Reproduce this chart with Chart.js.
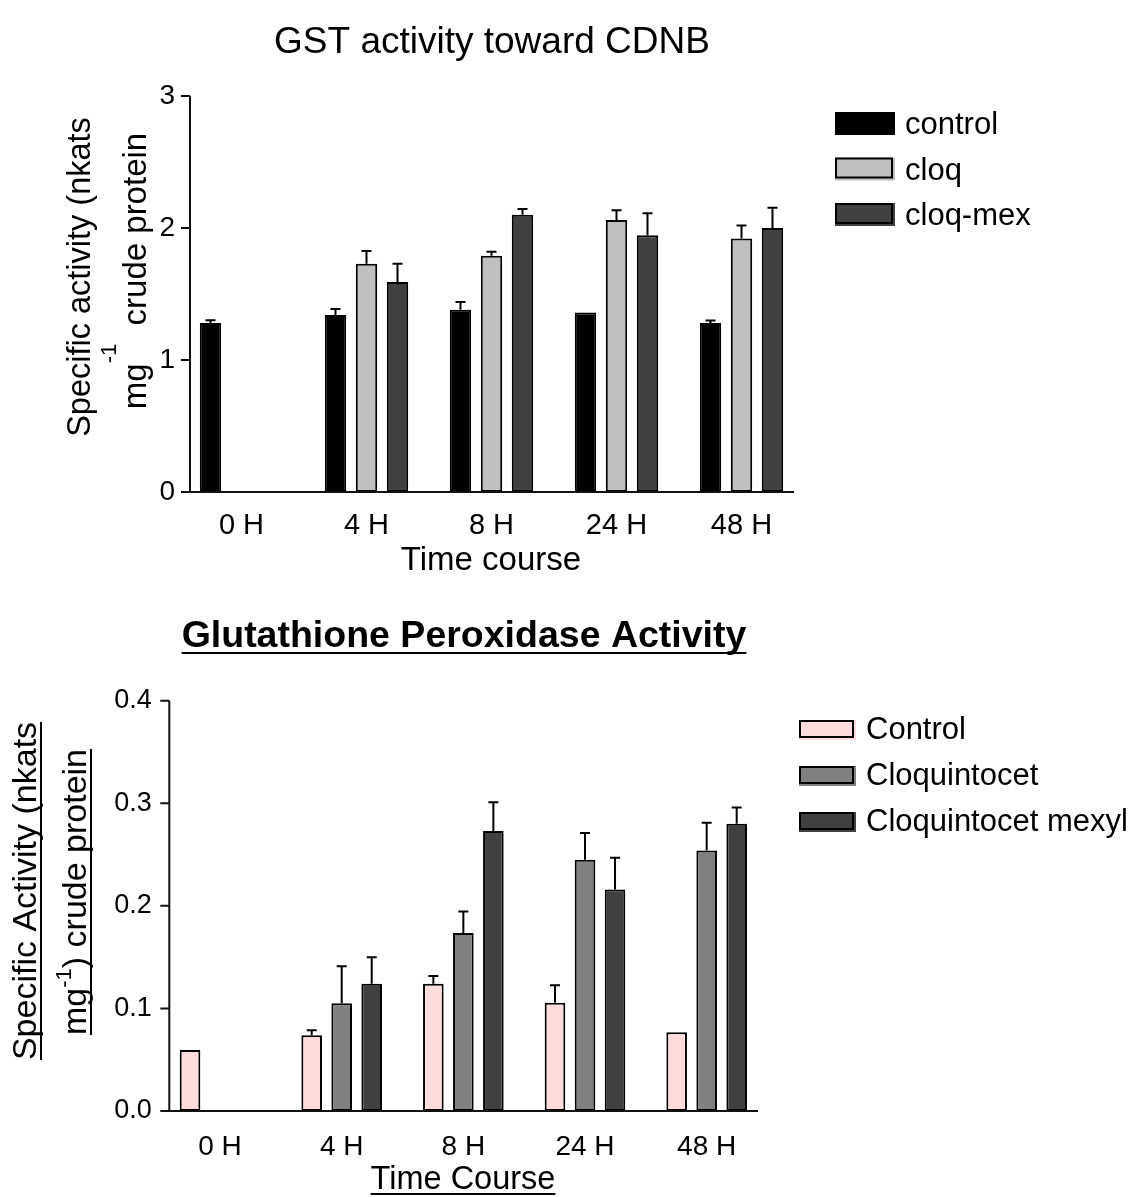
<!DOCTYPE html>
<html>
<head>
<meta charset="utf-8">
<script src="https://cdn.jsdelivr.net/npm/chart.js@4.4.0/dist/chart.umd.min.js"></script>
<style>
  html, body { margin: 0; padding: 0; background: #fff; }
  #wrap { position: relative; width: 1136px; height: 1197px; }
  canvas { position: absolute; left: 0; }
  #gst { top: 0; }
  #gpx { top: 600px; }
</style>
</head>
<body>
<div id="wrap">
  <canvas id="gst" width="1136" height="600"></canvas>
  <canvas id="gpx" width="1136" height="597"></canvas>
</div>
<script>
const FONT = '"Liberation Sans", Arial, Helvetica, sans-serif';
const timePoints = ['0 H', '4 H', '8 H', '24 H', '48 H'];

// GST activity toward CDNB (nkats mg-1 crude protein), with upper error bars
const gstControl = [1.28, 1.34, 1.38, 1.36, 1.28];
const gstControlErr = [0.022, 0.047, 0.06, 0, 0.02];
const gstCloq = [0, 1.73, 1.79, 2.06, 1.92];
const gstCloqErr = [0, 0.096, 0.03, 0.075, 0.098];
const gstCloqMex = [0, 1.59, 2.10, 1.945, 2.0];
const gstCloqMexErr = [0, 0.14, 0.043, 0.166, 0.154];
const gstTicks = [0, 1, 2, 3];

// Glutathione peroxidase activity
const gpxControl = [0.0595, 0.0738, 0.124, 0.1056, 0.0767];
const gpxControlErr = [0, 0.005, 0.0075, 0.017, 0];
const gpxCloq = [0, 0.105, 0.1735, 0.245, 0.254];
const gpxCloqErr = [0, 0.036, 0.021, 0.026, 0.027];
const gpxCloqMex = [0, 0.124, 0.273, 0.216, 0.280];
const gpxCloqMexErr = [0, 0.026, 0.028, 0.031, 0.016];
const gpxTicks = [0, 0.1, 0.2, 0.3, 0.4];

function textLine(ctx, parts, x, y, underline) {
  // parts: [{t, size, rise, bold}] drawn left to right starting at x, baseline y
  let cx = x;
  parts.forEach(p => {
    ctx.font = (p.bold ? 'bold ' : '') + p.size + 'px ' + FONT;
    ctx.fillText(p.t, cx, y - (p.rise || 0));
    cx += ctx.measureText(p.t).width;
  });
  if (underline) {
    ctx.fillRect(x, y + underline, cx - x, 2);
  }
  return cx - x;
}

function lineWidth(ctx, parts) {
  let w = 0;
  parts.forEach(p => {
    ctx.font = (p.bold ? 'bold ' : '') + p.size + 'px ' + FONT;
    w += ctx.measureText(p.t).width;
  });
  return w;
}

function centered(ctx, parts, cx, y, underline) {
  const w = lineWidth(ctx, parts);
  textLine(ctx, parts, cx - w / 2, y, underline);
}

function rotated(ctx, parts, baseX, cy, underline) {
  ctx.save();
  ctx.translate(baseX, cy);
  ctx.rotate(-Math.PI / 2);
  const w = lineWidth(ctx, parts);
  textLine(ctx, parts, -w / 2, 0, underline);
  ctx.restore();
}

function makeDecor(o) {
  return {
    id: 'decor',
    afterDatasetsDraw(chart) {
      const ctx = chart.ctx;
      const y = chart.scales.y;
      ctx.save();
      ctx.strokeStyle = '#000';
      ctx.lineWidth = 2;
      // error bars (upper only)
      chart.data.datasets.forEach((ds, i) => {
        const meta = chart.getDatasetMeta(i);
        meta.data.forEach((bar, j) => {
          const e = ds.errors[j];
          if (!e) return;
          const top = y.getPixelForValue(ds.data[j] + e);
          ctx.beginPath();
          ctx.moveTo(bar.x, bar.y);
          ctx.lineTo(bar.x, top);
          ctx.moveTo(bar.x - o.cap, top);
          ctx.lineTo(bar.x + o.cap, top);
          ctx.stroke();
        });
      });
      // axes
      const y0 = y.getPixelForValue(0);
      ctx.strokeStyle = '#111';
      ctx.beginPath();
      ctx.moveTo(o.axisX, y.getPixelForValue(y.max));
      ctx.lineTo(o.axisX, y0);
      y.ticks.forEach(t => {
        const py = y.getPixelForValue(t.value);
        ctx.moveTo(o.axisX - 9, py);
        ctx.lineTo(o.axisX, py);
      });
      ctx.moveTo(o.axisX - 9, y0);
      ctx.lineTo(o.axisEnd, y0);
      ctx.stroke();
      ctx.restore();
    },
    afterDraw(chart) {
      const ctx = chart.ctx;
      ctx.save();
      ctx.fillStyle = '#000';
      ctx.textBaseline = 'alphabetic';
      // title
      centered(ctx, o.title.parts, o.title.x, o.title.y, o.title.underline);
      // axis titles
      centered(ctx, o.xTitle.parts, o.xTitle.x, o.xTitle.y, o.xTitle.underline);
      o.yTitle.forEach(l => rotated(ctx, l.parts, l.x, l.cy, l.underline));
      // legend
      const L = o.legend;
      chart.data.datasets.forEach((ds, i) => {
        const by = L.y + i * L.step;
        ctx.fillStyle = ds.backgroundColor;
        ctx.fillRect(L.x, by, L.w + 2, L.h + 2);
        ctx.strokeStyle = '#000';
        ctx.lineWidth = 2;
        ctx.strokeRect(L.x + 1, by + 1, L.w - 2, L.h - 2);
        ctx.fillStyle = '#000';
        ctx.font = L.size + 'px ' + FONT;
        ctx.fillText(ds.label, L.textX, by + L.h + 1);
      });
      ctx.restore();
    }
  };
}

function barChart(id, o) {
  const canvas = document.getElementById(id);
  const W = canvas.width, H = canvas.height;
  return new Chart(canvas, {
    type: 'bar',
    data: {
      labels: timePoints,
      datasets: o.series.map(s => ({
        label: s.label,
        data: s.data,
        errors: s.err,
        backgroundColor: s.color,
        borderColor: '#000',
        borderWidth: 2,
        borderSkipped: false,
        categoryPercentage: o.catPct,
        barPercentage: o.barPct
      }))
    },
    options: {
      responsive: false,
      animation: false,
      layout: { padding: { left: 0, top: o.area.top, right: W - o.area.right, bottom: 0 } },
      plugins: { legend: { display: false }, title: { display: false }, tooltip: { enabled: false } },
      scales: {
        x: {
          grid: { display: false },
          border: { display: false },
          ticks: { color: '#000', font: { family: FONT, size: o.xFont }, padding: o.xPad },
          afterFit: s => { s.height = H - o.area.bottom; }
        },
        y: {
          min: 0,
          max: o.ticks[o.ticks.length - 1],
          grid: { display: false, drawTicks: false },
          border: { display: false },
          ticks: {
            color: '#000',
            font: { family: FONT, size: o.yFont },
            padding: o.yPad,
            callback: v => o.fmt(v)
          },
          afterBuildTicks: s => { s.ticks = o.ticks.map(v => ({ value: v })); },
          afterFit: s => { s.width = o.area.left; }
        }
      }
    },
    plugins: [makeDecor(o.decor)]
  });
}

barChart('gst', {
  series: [
    { label: 'control', data: gstControl, err: gstControlErr, color: '#000000' },
    { label: 'cloq', data: gstCloq, err: gstCloqErr, color: '#c0c0c0' },
    { label: 'cloq-mex', data: gstCloqMex, err: gstCloqMexErr, color: '#404040' }
  ],
  ticks: gstTicks,
  fmt: v => String(v),
  area: { left: 179, right: 804, top: 96, bottom: 492 },
  catPct: 0.744, barPct: 0.69,
  xFont: 29, xPad: 9, yFont: 28, yPad: 4,
  decor: {
    cap: 5, axisX: 190, axisEnd: 794,
    title: { parts: [{ t: 'GST activity toward CDNB', size: 37 }], x: 492, y: 53 },
    xTitle: { parts: [{ t: 'Time course', size: 33 }], x: 491, y: 570 },
    yTitle: [
      { parts: [{ t: 'Specific activity (nkats', size: 32.5 }], x: 90, cy: 277 },
      { parts: [{ t: 'mg', size: 33 }, { t: '-1', size: 22, rise: 30 }, { t: '  crude protein', size: 33 }], x: 146, cy: 271 }
    ],
    legend: { x: 835, y: 112, step: 45.5, w: 58, h: 21, textX: 905, size: 31 }
  }
});

barChart('gpx', {
  series: [
    { label: 'Control', data: gpxControl, err: gpxControlErr, color: '#ffdcdc' },
    { label: 'Cloquintocet', data: gpxCloq, err: gpxCloqErr, color: '#808080' },
    { label: 'Cloquintocet mexyl', data: gpxCloqMex, err: gpxCloqMexErr, color: '#404040' }
  ],
  ticks: gpxTicks,
  fmt: v => v.toFixed(1),
  area: { left: 159.2, right: 767.5, top: 100.7, bottom: 511 },
  catPct: 0.74, barPct: 0.687,
  xFont: 28, xPad: 11, yFont: 27, yPad: 7.5,
  decor: {
    cap: 5, axisX: 169.3, axisEnd: 758,
    title: { parts: [{ t: 'Glutathione Peroxidase Activity', size: 37.5, bold: true }], x: 464, y: 47, underline: 5 },
    xTitle: { parts: [{ t: 'Time Course', size: 32.5 }], x: 463, y: 589, underline: 4 },
    yTitle: [
      { parts: [{ t: 'Specific Activity (nkats', size: 34 }], x: 36, cy: 291, underline: 4 },
      { parts: [{ t: 'mg', size: 34 }, { t: '-1', size: 22, rise: 15 }, { t: ') crude protein', size: 34 }], x: 86, cy: 292, underline: 4 }
    ],
    legend: { x: 799, y: 120, step: 46, w: 55, h: 18, textX: 866, size: 31 }
  }
});
</script>
</body>
</html>
